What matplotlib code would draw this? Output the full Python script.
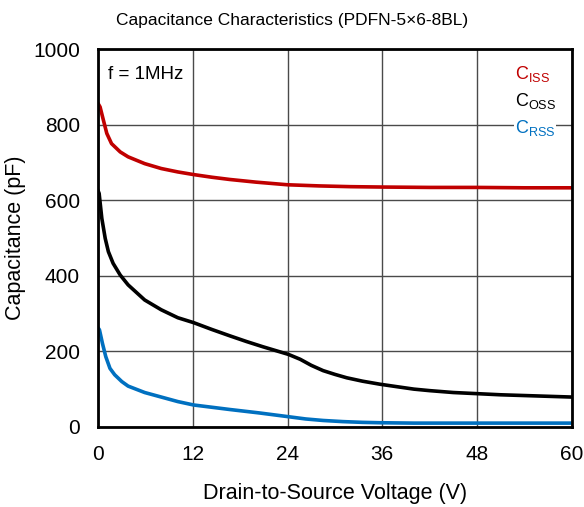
import matplotlib
matplotlib.use("Agg")
import matplotlib.pyplot as plt

plt.rcParams['font.family'] = ['Liberation Sans', 'DejaVu Sans']
plt.rcParams['mathtext.fontset'] = 'custom'
plt.rcParams['mathtext.rm'] = 'Liberation Sans'

# Capacitance vs drain-source voltage (f = 1 MHz)
vds_ciss = [0, 0.25, 0.67, 1.1, 1.7, 2.8, 3.8, 5.9, 8.0, 10.1, 12.1, 14.4, 16.7,
            20, 24, 28, 32, 36, 42, 48, 54, 60]
ciss = [856, 847, 812, 777, 750, 728, 715, 697, 684, 675, 668, 661, 655,
        648, 641, 638, 636, 635, 634, 634, 633, 633]

vds_coss = [0, 0.13, 0.47, 0.9, 1.3, 1.9, 2.8, 3.8, 5.9, 8.0, 10.1, 12.1, 14.4,
            16.7, 18.8, 20.9, 22.5, 24.1, 25.6, 27, 28.5, 30, 31.5, 33.5, 35.7,
            38, 40, 42, 45, 48, 51, 54, 57, 60]
coss = [625, 618, 552, 499, 464, 433, 402, 376, 336, 310, 289, 276, 258,
        241, 226, 212, 202, 192, 179, 163, 149, 139, 130, 121, 113,
        106, 100, 96, 91, 88, 85, 83, 81, 79]

vds_crss = [0, 0.17, 0.55, 0.97, 1.5, 2.1, 3.0, 3.8, 5.9, 8.0, 10.1, 12.1, 14.4,
            16.7, 20.4, 24.1, 26.3, 28.5, 31, 33.5, 35.7, 40, 48, 54, 60]
crss = [262, 257, 221, 186, 155, 138, 120, 108, 91, 79, 67, 58, 52,
        46, 37, 27, 21, 17, 14, 12, 11, 10, 10, 10, 10]

xticks = [0, 12, 24, 36, 48, 60]
yticks = [0, 200, 400, 600, 800, 1000]

fig = plt.figure(figsize=(5.84, 5.07), dpi=100)
ax = fig.add_axes([0.168, 0.158, 0.811, 0.745])

ax.plot(vds_ciss, ciss, color='#C00000', lw=2.6, solid_joinstyle='round')
ax.plot(vds_coss, coss, color='#000000', lw=2.6, solid_joinstyle='round')
ax.plot(vds_crss, crss, color='#0070C0', lw=2.6, solid_joinstyle='round')

ax.set_xlim(0, 60)
ax.set_ylim(0, 1000)
ax.set_xticks(xticks)
ax.set_yticks(yticks)
ax.tick_params(length=0, labelsize=15, pad=13)
ax.grid(True, color='#4a4a4a', lw=1.0)
ax.set_axisbelow(True)
for s in ax.spines.values():
    s.set_linewidth(2.0)
    s.set_color('black')

ax.set_xlabel('Drain-to-Source Voltage (V)', fontsize=15.5, labelpad=14)
ax.set_ylabel('Capacitance (pF)', fontsize=15.5, labelpad=5)
fig.text(0.5, 0.96, 'Capacitance Characteristics (PDFN-5\u00d76-8BL)', fontsize=12.5,
         ha='center', va='center')

ax.text(0.02, 0.955, 'f = 1MHz', transform=ax.transAxes, fontsize=13.5, va='top', ha='left')

leg_items = [(r'C$_{\mathrm{ISS}}$', '#C00000'),
             (r'C$_{\mathrm{OSS}}$', '#000000'),
             (r'C$_{\mathrm{RSS}}$', '#0070C0')]
for i, (lbl, col) in enumerate(leg_items):
    ax.text(0.88, 0.935 - i * 0.072, lbl, transform=ax.transAxes, fontsize=13,
            color=col, va='center', ha='left',
            bbox=dict(facecolor='white', edgecolor='none', pad=0.5))

fig.savefig('out.png', dpi=100)
